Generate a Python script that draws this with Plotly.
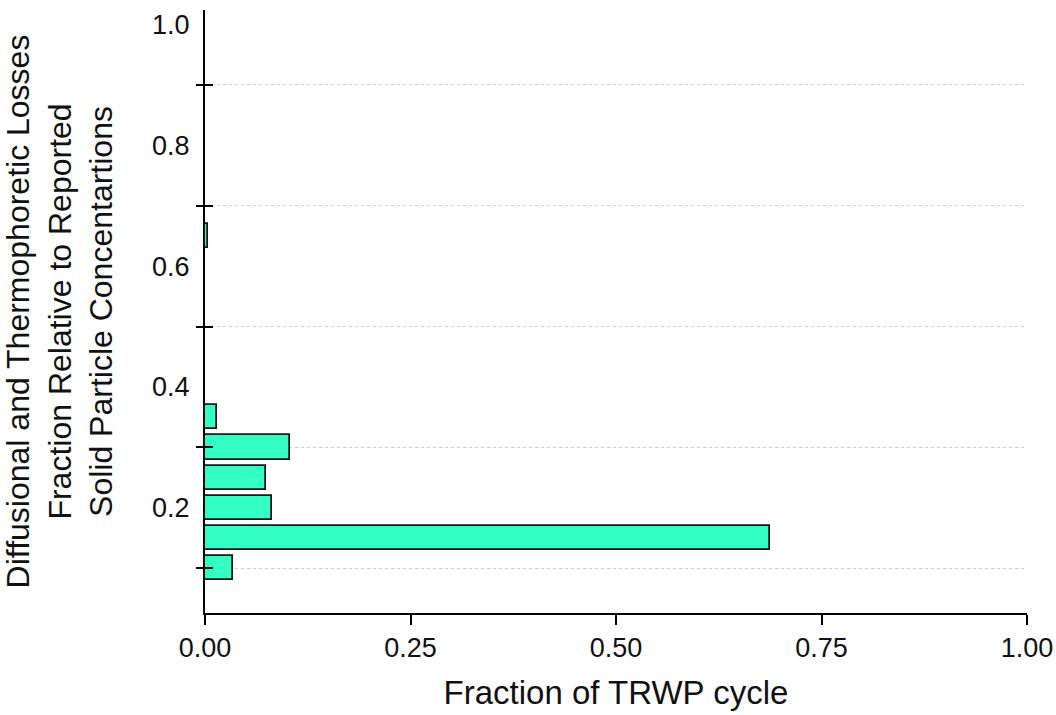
import plotly.graph_objects as go

# Histogram-style bins (y) and fraction of TRWP cycle (x)
bin_centers = [0.10, 0.15, 0.20, 0.25, 0.30, 0.35, 0.65, 0.70]
fractions = [0.034, 0.687, 0.082, 0.074, 0.103, 0.014, 0.004, 0.0006]

y_label_vals = [0.2, 0.4, 0.6, 0.8, 1.0]
y_label_text = ["0.2", "0.4", "0.6", "0.8", "1.0"]
y_tick_vals = [0.1, 0.3, 0.5, 0.7, 0.9]
x_tick_vals = [0.0, 0.25, 0.5, 0.75, 1.0]
x_tick_text = ["0.00", "0.25", "0.50", "0.75", "1.00"]

x_title = "Fraction of TRWP cycle"
y_title = ("Diffusional and Thermophoretic Losses<br>"
           "Fraction Relative to Reported<br>"
           "Solid Particle Concentartions")

FONT = "Liberation Sans, Arial, sans-serif"
Y_RANGE = [0.026, 1.024]

fig = go.Figure()
fig.add_trace(go.Bar(
    x=fractions, y=bin_centers, orientation="h", width=0.04,
    marker=dict(color="#33FFC4", line=dict(color="#141414", width=1.7)),
    showlegend=False,
))
fig.add_trace(go.Scatter(x=[], y=[], yaxis="y2", showlegend=False))

fig.update_layout(
    width=1056, height=715,
    margin=dict(l=205, r=29, t=10, b=102),
    paper_bgcolor="white", plot_bgcolor="white",
    font=dict(family=FONT, color="black"),
    bargap=0,
    xaxis=dict(
        range=[0, 1], tickvals=x_tick_vals, ticktext=x_tick_text,
        ticks="outside", ticklen=10, tickwidth=2, tickcolor="black",
        showline=True, linewidth=2, linecolor="black",
        showgrid=False, zeroline=False,
        tickfont=dict(size=27, family=FONT, color="#111"),
        title=dict(text=x_title, font=dict(size=33, family=FONT, color="#111"), standoff=18),
        automargin=False,
    ),
    yaxis=dict(
        range=Y_RANGE, tickvals=y_label_vals, ticktext=y_label_text,
        ticks="outside", ticklen=8, tickcolor="rgba(0,0,0,0)",
        showline=True, linewidth=2, linecolor="black",
        showgrid=False, zeroline=False,
        tickfont=dict(size=27, family=FONT, color="#111"),
        minor=dict(tickvals=y_tick_vals, ticks="outside", ticklen=7, tickwidth=2,
                   tickcolor="black", showgrid=True, gridcolor="#cfcfcf",
                   gridwidth=1, griddash="dot"),
        title=dict(text=y_title, font=dict(size=32, family=FONT, color="#111"), standoff=38),
        automargin=False,
    ),
    yaxis2=dict(
        range=Y_RANGE, overlaying="y", side="left", anchor="x",
        tickvals=y_tick_vals, showticklabels=False,
        ticks="inside", ticklen=8, tickwidth=2, tickcolor="black",
        showline=False, showgrid=False, zeroline=False,
    ),
)

fig.write_html("out.html")
